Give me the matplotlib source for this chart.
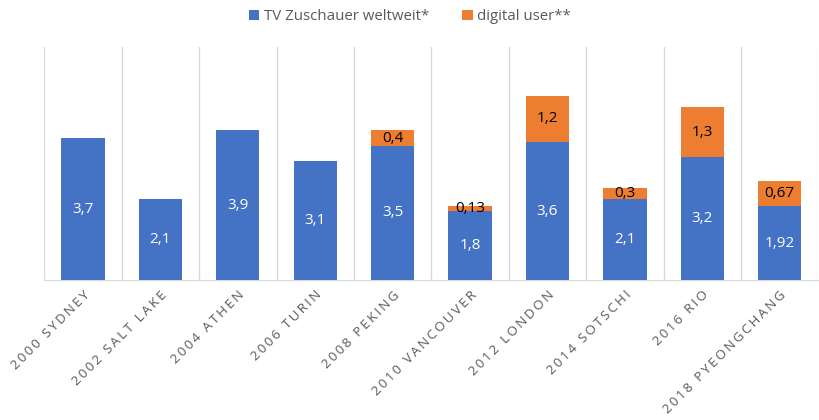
import numpy as np
import matplotlib.pyplot as plt

plt.rcParams['font.family'] = ['Open Sans', 'DejaVu Sans']

games = ['2000 SYDNEY', '2002 SALT LAKE', '2004 ATHEN', '2006 TURIN', '2008 PEKING',
         '2010 VANCOUVER', '2012 LONDON', '2014 SOTSCHI', '2016 RIO', '2018 PYEONGCHANG']
tv = [3.7, 2.1, 3.9, 3.1, 3.5, 1.8, 3.6, 2.1, 3.2, 1.92]
tv_labels = ['3,7', '2,1', '3,9', '3,1', '3,5', '1,8', '3,6', '2,1', '3,2', '1,92']
digital = [0, 0, 0, 0, 0.4, 0.13, 1.2, 0.3, 1.3, 0.67]
digital_labels = ['', '', '', '', '0,4', '0,13', '1,2', '0,3', '1,3', '0,67']

blue = '#4472C4'
orange = '#ED7D31'
grid = '#D9D9D9'

fig = plt.figure(figsize=(8.2, 4.2), dpi=100)
ax = fig.add_axes([0.054, 0.333, 0.944, 0.555])

x = np.arange(len(games))
tv = np.array(tv)
digital = np.array(digital)

b1 = ax.bar(x, tv, width=0.56, color=blue, label='TV Zuschauer weltweit*', zorder=3)
b2 = ax.bar(x, digital, width=0.56, bottom=tv, color=orange, label='digital user**', zorder=3)

for i in x:
    ax.text(i, tv[i] / 2, tv_labels[i], ha='center', va='center', color='white', fontsize=11, zorder=4)
    if digital_labels[i]:
        ax.text(i, tv[i] + digital[i] / 2, digital_labels[i], ha='center', va='center',
                color='black', fontsize=11, zorder=4)

for b in np.arange(len(games) + 1) - 0.5:
    ax.axvline(b, color=grid, lw=1, zorder=1)

ax.set_xlim(-0.5, len(games) - 0.5)
ax.set_ylim(0, 6.07)
for s in ['top', 'right', 'left']:
    ax.spines[s].set_visible(False)
ax.spines['bottom'].set_color(grid)
ax.set_yticks([])

# letter spacing like the original
spaced = ['\u2009'.join(list(g)) for g in games]
ax.set_xticks(x)
ax.set_xticklabels(spaced, rotation=45, ha='right', va='top', rotation_mode='anchor',
                   fontsize=9.6, color='#595959')
ax.tick_params(axis='x', length=0, pad=6)

fig.legend(handles=[b1, b2], loc='upper center', bbox_to_anchor=(0.5, 1.01), ncol=2,
           frameon=False, fontsize=10.8, labelcolor='#595959', handlelength=0.7,
           handleheight=0.7, handletextpad=0.3, columnspacing=2.2)

fig.savefig('out.png', dpi=100)
